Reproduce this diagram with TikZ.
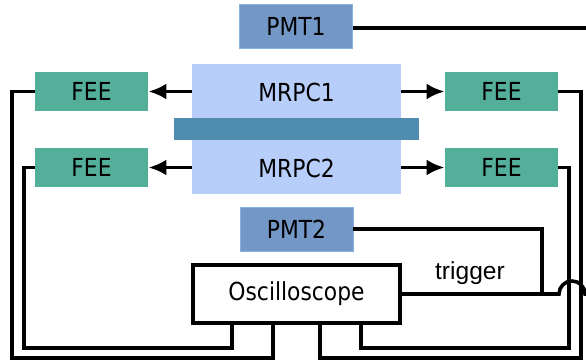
\documentclass[tikz,border=0pt]{standalone}
\usepackage{fontspec}
\setmainfont[FakeStretch=0.88]{DejaVu Sans}
\newfontfamily\trigfont{Liberation Sans}
\usetikzlibrary{arrows.meta,positioning}
\definecolor{mrpcblue}{HTML}{B8CEFA}
\definecolor{barblue}{HTML}{508BB0}
\definecolor{pmtblue}{HTML}{7397C6}
\definecolor{pmtedge}{HTML}{86B0E2}
\definecolor{feegreen}{HTML}{53AE9A}

\begin{document}
\begin{tikzpicture}[x=0.5pt,y=-0.5pt,
        box style/.style={minimum width=56.5pt,inner sep=0pt,font=\fontsize{12.4}{14}\selectfont},
        fee/.style={box style,fill=feegreen,minimum height=19.5pt},
        pmt/.style={box style,fill=pmtblue,draw=pmtedge,line width=0.4pt,minimum height=22pt},
        cable/.style={draw,line width=1.8pt},
        sig/.style={cable,-{Latex[length=9pt,width=8pt]}}]
        \useasboundingbox (0,0) rectangle (586,363);
        \node[fill=mrpcblue,minimum width=104.5pt,minimum height=65pt,inner sep=0pt] (mrpc) at (296.5,129) {};
        \node[fill=barblue,minimum width=122.5pt,minimum height=11pt,inner sep=0pt] (bar) at (296.5,129) {};
        \node[box style] (mrpc1) at (296.5,92) {MRPC1};
        \node[box style] (mrpc2) at (296.5,168) {MRPC2};
        \node[pmt] (pmt1) at (296,26) {PMT1};
        \node[pmt] (pmt2) at (296.5,229) {PMT2};
        \node[fee] (feeL1) at (91.5,91.5) {FEE};
        \node[fee] (feeL2) at (91.5,167.5) {FEE};
        \node[fee] (feeR1) at (501.5,91.5) {FEE};
        \node[fee] (feeR2) at (501.5,167.5) {FEE};
        \node[box style,draw,line width=1.8pt,minimum width=103.5pt,minimum height=29pt] (osc) at (296.5,294) {Oscilloscope};
        \node[font=\trigfont\fontsize{12.3}{14}\selectfont] (trigger) at (470,273) {trigger};
        \coordinate (tapA) at (232,324);
        \coordinate (tapB) at (273,324);
        \coordinate (tapC) at (320,324);
        \coordinate (tapD) at (361,324);
        \coordinate (trig) at (542,294);
        \coordinate (out1) at (586,28);
        \coordinate (out2) at (586,294);
        % readout
        \path[sig] (mrpc.west |- feeL1) -- (feeL1);
        \path[sig] (mrpc.west |- feeL2) -- (feeL2);
        \path[sig] (mrpc.east |- feeR1) -- (feeR1);
        \path[sig] (mrpc.east |- feeR2) -- (feeR2);
        \path[cable] (feeL1.west) -| (12,358) -| (tapB);
        \path[cable] (feeL2.west) -| (24,348) -| (tapA);
        \path[cable] (feeR1.east) -| (581,358) -| (tapC);
        \path[cable] (feeR2.east) -| (569,348) -| (tapD);
        \path[cable] (pmt1.east |- out1) -- (out1);
        \path[cable] (pmt2.east) -| (trig);
        \path[cable] (osc.east) -- (559,294) arc[start angle=180,end angle=0,radius=6.5pt] -- (out2);
\end{tikzpicture}
\end{document}
